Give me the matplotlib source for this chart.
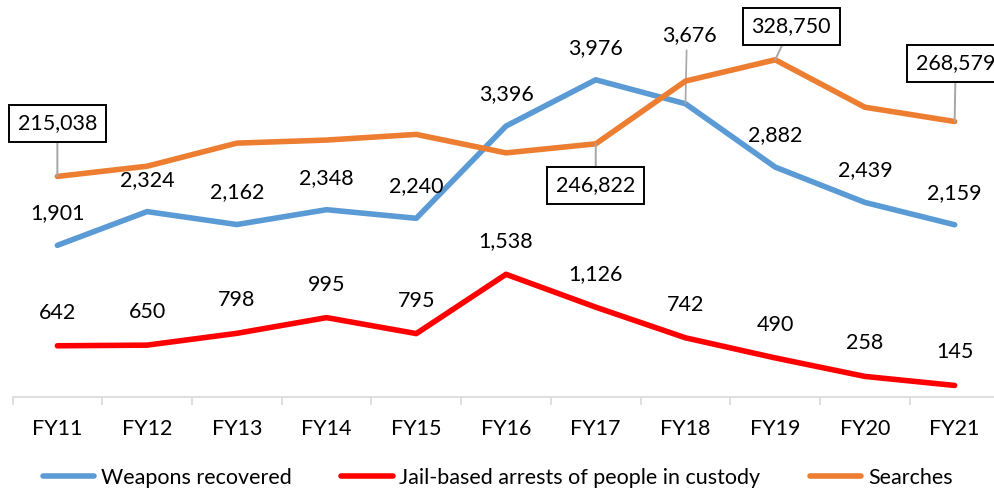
import numpy as np
import matplotlib
matplotlib.use("Agg")
import matplotlib.pyplot as plt
from matplotlib.lines import Line2D

plt.rcParams['font.family'] = ['Lato', 'DejaVu Sans']

# data
years = ['FY11', 'FY12', 'FY13', 'FY14', 'FY15', 'FY16', 'FY17', 'FY18', 'FY19', 'FY20', 'FY21']
weapons = [1901, 2324, 2162, 2348, 2240, 3396, 3976, 3676, 2882, 2439, 2159]
jail = [642, 650, 798, 995, 795, 1538, 1126, 742, 490, 258, 145]
searches = [215038, 225000, 247500, 250500, 256000, 238000, 246822, 308000, 328750, 282500, 268579]
searches_shown = {0: '215,038', 6: '246,822', 8: '328,750', 10: '268,579'}

blue = '#5B9BD5'
red = '#FF0000'
orange = '#ED7D31'
grey = '#A6A6A6'
fs = 15.5
lw = 4.0

fig = plt.figure(figsize=(9.95, 4.91), dpi=100)
ax = fig.add_axes([12.5 / 995, (491 - 397) / 491, 987 / 995, 359 / 491])
ax.set_xlim(-0.5, 10.5)
ax.set_ylim(0, 4500)
ax2 = ax.twinx()
ax2.set_ylim(0, 350000)

x = np.arange(len(years))
ax.plot(x, weapons, color=blue, lw=lw, solid_capstyle='round', zorder=3)
ax.plot(x, jail, color=red, lw=lw, solid_capstyle='round', zorder=3)
ax2.plot(x, searches, color=orange, lw=lw, solid_capstyle='round', zorder=3)

# axes styling
for a in (ax, ax2):
    for s in ('top', 'left', 'right'):
        a.spines[s].set_visible(False)
    a.set_yticks([])
ax2.spines['bottom'].set_visible(False)
ax.spines['bottom'].set_color('#D9D9D9')
ax.spines['bottom'].set_linewidth(1.2)
ax.set_xticks(x)
ax.set_xticklabels(years, fontsize=fs)
ax.set_xticks(np.arange(-0.5, 11, 1), minor=True)
ax.tick_params(axis='x', which='major', length=0, pad=16)
ax.tick_params(axis='x', which='minor', length=6, color='#D9D9D9', width=1.2)

# weapon labels (FY18 label pulled up with a leader line)
for i, v in enumerate(weapons):
    if i == 7:
        continue
    ax.annotate(f'{v:,}', (i, v), xytext=(0, 32), textcoords='offset pixels',
                ha='center', va='center', fontsize=fs)
ax.annotate(f'{weapons[7]:,}', (7, weapons[7]), xytext=(4, 69), textcoords='offset pixels',
            ha='center', va='center', fontsize=fs,
            arrowprops=dict(arrowstyle='-', color=grey, lw=1.2, shrinkA=2, shrinkB=0,
                            relpos=(0.45, 0)))

# jail labels
for i, v in enumerate(jail):
    ax.annotate(f'{v:,}', (i, v), xytext=(0, 33), textcoords='offset pixels',
                ha='center', va='center', fontsize=fs)

# searches labels (boxed)
s_off = {0: (0, 53), 6: (0, -41.5), 8: (16, 33.5), 10: (1, 58)}
for i, txt in searches_shown.items():
    dx, dy = s_off[i]
    ax2.annotate(txt, (i, searches[i]), xytext=(dx, dy), textcoords='offset pixels',
                 ha='center', va='center', fontsize=fs, zorder=5,
                 bbox=dict(boxstyle='square,pad=0.4', fc='white', ec='black', lw=1.4),
                 arrowprops=dict(arrowstyle='-', color=grey, lw=1.4, shrinkA=0, shrinkB=0))

handles = [Line2D([], [], color=blue, lw=lw, solid_capstyle='round'),
           Line2D([], [], color=red, lw=lw, solid_capstyle='round'),
           Line2D([], [], color=orange, lw=lw, solid_capstyle='round')]
fig.legend(handles, ['Weapons recovered', 'Jail-based arrests of people in custody', 'Searches'],
           loc='center', bbox_to_anchor=(0.5, 1 - 478 / 491), ncol=3, frameon=False,
           fontsize=fs, handlelength=2.4, handletextpad=0.3, columnspacing=2.3)

fig.savefig('out.png', dpi=100)
